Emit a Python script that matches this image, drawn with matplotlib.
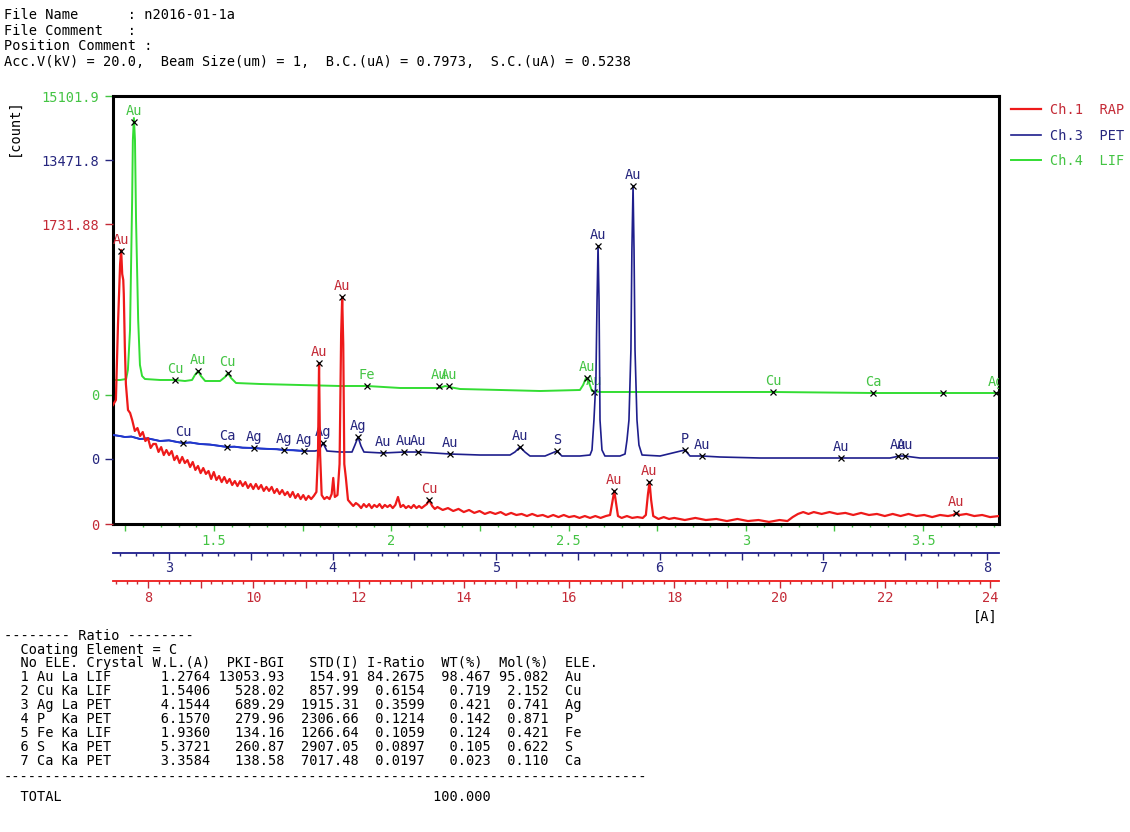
import numpy as np
import matplotlib
matplotlib.use("Agg")
import matplotlib.pyplot as plt
from matplotlib.ticker import MultipleLocator, FixedLocator

# ---------------- data (wavelength in Angstrom, intensity in counts) ----------------
# Ch.1 RAP
RAP_WL = [7.335, 7.39, 7.43, 7.47, 7.49, 7.51, 7.53, 7.54, 7.56, 7.58, 7.62, 7.66,
          7.70, 7.75, 7.80, 7.85, 7.90, 7.95, 8.00, 8.05, 8.10, 8.15, 8.20, 8.25, 8.30, 8.35,
          8.40, 8.45, 8.50, 8.55, 8.60, 8.65, 8.70, 8.75, 8.80, 8.85, 8.90, 8.95, 9.00, 9.05,
          9.10, 9.15, 9.20, 9.25, 9.30, 9.35, 9.40, 9.45, 9.50, 9.55, 9.60, 9.65, 9.70, 9.75,
          9.80, 9.85, 9.90, 9.95, 10.00, 10.05, 10.10, 10.15, 10.20, 10.25, 10.30, 10.35, 10.40,
          10.45, 10.50, 10.55, 10.60, 10.65, 10.70, 10.75, 10.80, 10.85, 10.90, 10.95, 11.00,
          11.05, 11.10, 11.15, 11.20, 11.23, 11.25, 11.27, 11.30, 11.35, 11.40, 11.45, 11.49,
          11.52, 11.55, 11.60, 11.64, 11.67, 11.69, 11.71, 11.73, 11.76, 11.80, 11.85, 11.90,
          11.95, 12.00, 12.05, 12.10, 12.15, 12.20, 12.25, 12.30, 12.35, 12.40, 12.45, 12.50,
          12.55, 12.60, 12.65, 12.70, 12.75, 12.80, 12.85, 12.90, 12.95, 13.00, 13.05, 13.10,
          13.15, 13.20, 13.25, 13.30, 13.34, 13.40, 13.45, 13.50, 13.60, 13.70, 13.80, 13.90,
          14.00, 14.10, 14.20, 14.30, 14.40, 14.50, 14.60, 14.70, 14.80, 14.90, 15.00, 15.10,
          15.20, 15.30, 15.40, 15.50, 15.60, 15.70, 15.80, 15.90, 16.00, 16.10, 16.20, 16.30,
          16.40, 16.50, 16.60, 16.70, 16.78, 16.83, 16.86, 16.89, 16.93, 17.00, 17.10, 17.20,
          17.30, 17.40, 17.46, 17.50, 17.53, 17.56, 17.60, 17.70, 17.80, 17.90, 18.00, 18.20,
          18.40, 18.60, 18.80, 19.00, 19.20, 19.40, 19.60, 19.80, 20.00, 20.15, 20.25, 20.35,
          20.45, 20.55, 20.65, 20.80, 20.95, 21.10, 21.25, 21.40, 21.55, 21.70, 21.85, 22.00,
          22.15, 22.30, 22.45, 22.60, 22.75, 22.90, 23.05, 23.20, 23.30, 23.36, 23.42, 23.55,
          23.70, 23.85, 24.00, 24.17]
RAP_CNT = [687, 716, 1155, 1501, 1582, 1443, 1409, 1328, 1022, 808, 658, 641,
           600, 537, 554, 508, 531, 479, 496, 439, 462, 462, 416, 444, 398, 427,
           398, 421, 369, 393, 352, 387, 352, 369, 329, 358, 312, 335, 294, 323,
           289, 306, 260, 300, 254, 277, 242, 271, 237, 260, 225, 248, 219, 248,
           219, 242, 208, 231, 202, 231, 202, 225, 191, 214, 191, 214, 179,
           202, 173, 196, 167, 185, 156, 185, 150, 173, 144, 167, 139,
           162, 144, 162, 185, 404, 929, 404, 167, 144, 156, 144, 173,
           266, 156, 167, 346, 1097, 1310, 1039, 346, 266, 139, 121, 104,
           121, 110, 92, 115, 98, 115, 92, 110, 98, 115, 92, 110,
           98, 110, 92, 110, 156, 98, 110, 92, 104, 92, 110, 92,
           104, 92, 104, 115, 139, 104, 87, 98, 81, 92, 75, 87,
           69, 81, 64, 75, 58, 69, 58, 69, 52, 64, 52, 58,
           46, 58, 46, 52, 40, 52, 40, 52, 40, 46, 35, 46,
           35, 46, 35, 46, 52, 139, 191, 127, 46, 35, 46, 35,
           40, 35, 52, 173, 242, 139, 46, 29, 40, 29, 35, 23,
           35, 23, 29, 17, 29, 17, 23, 12, 23, 17, 40, 58,
           69, 58, 69, 58, 69, 58, 64, 52, 64, 52, 58, 46,
           58, 46, 58, 46, 52, 40, 52, 46, 52, 64, 52, 58,
           46, 52, 40, 46]

# Ch.3 PET
PET_WL = [2.658, 2.700, 2.731, 2.770, 2.823, 2.870, 2.945, 3.000, 3.050, 3.086, 3.130, 3.190,
          3.250, 3.300, 3.355, 3.400, 3.450, 3.520, 3.560, 3.618, 3.660, 3.703, 3.760, 3.825,
          3.893, 3.917, 3.942, 3.966, 4.046, 4.119, 4.137, 4.156, 4.174, 4.192, 4.308, 4.437,
          4.522, 4.718, 4.901, 5.085, 5.115, 5.146, 5.176, 5.207, 5.299, 5.372, 5.402, 5.512,
          5.574, 5.586, 5.598, 5.610, 5.617, 5.623, 5.629, 5.635, 5.647, 5.665, 5.757, 5.788,
          5.800, 5.812, 5.824, 5.830, 5.837, 5.843, 5.849, 5.861, 5.873, 5.892, 6.002, 6.154,
          6.185, 6.258, 6.368, 6.613, 7.108, 7.407, 7.438, 7.456, 7.499, 7.542, 7.591, 8.074]
PET_CNT = [1081, 1036, 991, 1010, 901, 930, 811, 840, 766, 721, 745, 676,
           650, 600, 541, 555, 510, 496, 470, 451, 440, 406, 395, 360,
           360, 406, 721, 360, 315, 315, 631, 991, 586, 315, 270, 315,
           315, 225, 180, 180, 315, 541, 315, 135, 135, 360, 135, 135,
           180, 406, 1757, 3560, 7165, 9598, 7165, 1757, 406, 135, 135, 225,
           856, 1757, 4912, 9418, 12301, 9418, 4912, 1757, 631, 180, 135, 406,
           135, 135, 90, 45, 45, 45, 90, 135, 135, 90, 45, 45]

# Ch.4 LIF
LIF_WL = [1.215, 1.235, 1.252, 1.257, 1.263, 1.269, 1.271, 1.274, 1.277, 1.280, 1.286, 1.291,
          1.297, 1.305, 1.348, 1.390, 1.418, 1.438, 1.446, 1.455, 1.463, 1.475, 1.517, 1.531,
          1.539, 1.548, 1.562, 1.630, 1.742, 1.855, 1.931, 2.025, 2.135, 2.152, 2.163, 2.194,
          2.307, 2.420, 2.532, 2.541, 2.549, 2.558, 2.566, 2.589, 2.871, 3.077, 3.359, 3.556,
          3.714]
LIF_CNT = [758, 758, 808, 1263, 3283, 9849, 12880, 13991, 12880, 8839, 3788, 1515,
           960, 808, 758, 758, 707, 758, 1010, 1212, 960, 707, 707, 909,
           1111, 859, 606, 556, 505, 455, 455, 354, 354, 455, 404, 303,
           253, 202, 253, 505, 859, 606, 202, 152, 152, 152, 101, 101,
           101]

# identified peaks (marker position and element label)
RAP_PK_WL = [7.487, 11.251, 11.689, 13.343, 16.860, 17.525, 23.362]
RAP_PK_CNT = [1576, 929, 1310, 139, 191, 242, 64]
RAP_PK_LBL = ["Au", "Au", "Au", "Cu", "Au", "Au", "Au"]

PET_PK_WL = [3.086, 3.355, 3.520, 3.703, 3.825, 3.942, 4.156, 4.308, 4.437, 4.522, 4.718,
             5.146, 5.372, 5.623, 5.837, 6.154, 6.258, 7.108, 7.456, 7.499]
PET_PK_CNT = [721, 541, 496, 406, 360, 721, 991, 270, 315, 315, 225,
              541, 360, 9598, 12301, 406, 135, 45, 135, 135]
PET_PK_LBL = ["Cu", "Ca", "Ag", "Ag", "Ag", "Ag", "Ag", "Au", "Au", "Au", "Au",
              "Au", "S", "Au", "Au", "P", "Au", "Au", "Au", "Au"]

LIF_PK_WL = [1.274, 1.390, 1.455, 1.539, 1.931, 2.135, 2.163, 2.552, 2.572, 3.077, 3.359, 3.556, 3.706]
LIF_PK_CNT = [13789, 758, 1212, 1111, 455, 455, 455, 859, 152, 152, 101, 101, 101]
LIF_PK_LBL = ["Au", "Cu", "Au", "Cu", "Fe", "Au", "Au", "Au", "Au", "Cu", "Ca", "", "Ag"]

Y_TOP = {"RAP": 1731.88, "PET": 13471.8, "LIF": 15101.9}
CHANNELS = ["Ch.1  RAP", "Ch.3  PET", "Ch.4  LIF"]

HEADER = ["File Name      : n2016-01-1a",
          "File Comment   :",
          "Position Comment :",
          "Acc.V(kV) = 20.0,  Beam Size(um) = 1,  B.C.(uA) = 0.7973,  S.C.(uA) = 0.5238"]

T_NO = ["1", "2", "3", "4", "5", "6", "7"]
T_ELE = ["Au", "Cu", "Ag", "P", "Fe", "S", "Ca"]
T_LINE = ["La", "Ka", "La", "Ka", "Ka", "Ka", "Ka"]
T_CRYS = ["LIF", "LIF", "PET", "PET", "LIF", "PET", "PET"]
T_WL = ["1.2764", "1.5406", "4.1544", "6.1570", "1.9360", "5.3721", "3.3584"]
T_PKI = ["13053.93", "528.02", "689.29", "279.96", "134.16", "260.87", "138.58"]
T_STD = ["154.91", "857.99", "1915.31", "2306.66", "1266.64", "2907.05", "7017.48"]
T_IR = ["84.2675", "0.6154", "0.3599", "0.1214", "0.1059", "0.0897", "0.0197"]
T_WT = ["98.467", "0.719", "0.421", "0.142", "0.124", "0.105", "0.023"]
T_MOL = ["95.082", "2.152", "0.741", "0.871", "0.421", "0.622", "0.110"]
TOTAL_WT = "100.000"

# ---------------- styling / layout ----------------
RED_LINE, RED_TXT = "#ee1a1a", "#c42a36"
BLUE_LINE, BLUE_LINE2, BLUE_TXT = "#1e1e8c", "#2038d0", "#26267e"
GRN_LINE, GRN_TXT = "#33dd33", "#44c444"
MONO = "DejaVu Sans Mono"
FS = 9.8

plt.rcParams["font.family"] = MONO
plt.rcParams["font.size"] = FS

W, H = 1130, 832
fig = plt.figure(figsize=(W / 100, H / 100), dpi=100)
fig.patch.set_facecolor("white")
L, R, T, B = 113, 999, 96, 524
rect = [L / W, 1 - B / H, (R - L) / W, (B - T) / H]
PX = 72 / 100  # points per pixel


def ylim_for(zero_px, top_px, top_val):
    per = top_val / (zero_px - top_px)
    return (-(B - zero_px) * per, top_val + (top_px - T) * per)


axG = fig.add_axes(rect)
axB = fig.add_axes(rect)
axR = fig.add_axes(rect)
for a in (axB, axR):
    a.patch.set_visible(False)
    for s in ("top", "right", "left"):
        a.spines[s].set_visible(False)

axG.set_xlim(1.215, 3.714)
axB.set_xlim(2.658, 8.074)
axR.set_xlim(7.335, 24.17)
axG.set_ylim(*ylim_for(395, 96, Y_TOP["LIF"]))
axB.set_ylim(*ylim_for(459, 160, Y_TOP["PET"]))
axR.set_ylim(*ylim_for(524, 224, Y_TOP["RAP"]))

lG, = axG.plot(LIF_WL, LIF_CNT, color=GRN_LINE, lw=1.4)
lB, = axB.plot(PET_WL, PET_CNT, color=BLUE_LINE, lw=1.2)
axB.plot(PET_WL[:24], PET_CNT[:24], color=BLUE_LINE2, lw=1.4)
lR, = axR.plot(RAP_WL, RAP_CNT, color=RED_LINE, lw=1.6)


def peaks(ax, wl, cnt, lbl, col):
    ax.plot(wl, cnt, "x", color="black", ms=5, mew=0.9, zorder=5)
    for x, y, s in zip(wl, cnt, lbl):
        if s:
            ax.annotate(s, (x, y), xytext=(0, 3), textcoords="offset points",
                        ha="center", va="bottom", color=col, fontsize=FS,
                        annotation_clip=False, clip_on=True)


peaks(axG, LIF_PK_WL, LIF_PK_CNT, LIF_PK_LBL, GRN_TXT)
peaks(axB, PET_PK_WL, PET_PK_CNT, PET_PK_LBL, BLUE_TXT)
peaks(axR, RAP_PK_WL, RAP_PK_CNT, RAP_PK_LBL, RED_TXT)

# frame
for s in axG.spines.values():
    s.set_color("black")
    s.set_linewidth(2.2)

# y ticks (left, coloured per channel)
for a, key, col in ((axG, "LIF", GRN_TXT), (axB, "PET", BLUE_TXT), (axR, "RAP", RED_TXT)):
    a.yaxis.set_major_locator(FixedLocator([0, Y_TOP[key]]))
    a.set_yticklabels(["0", f"{Y_TOP[key]:g}"])
    a.tick_params(axis="y", which="both", left=True, right=False, direction="out",
                  length=6, width=1, colors=col, pad=4, labelsize=FS)

# x axes
axG.xaxis.set_major_locator(MultipleLocator(0.25))
axG.xaxis.set_minor_locator(MultipleLocator(0.05))
axG.xaxis.set_major_formatter(plt.FuncFormatter(
    lambda v, p: (f"{v:g}" if abs(v * 2 - round(v * 2)) < 1e-6 else "")))
axG.tick_params(axis="x", which="major", direction="out", length=5, width=1,
                colors=GRN_TXT, pad=2, labelsize=FS)
axG.tick_params(axis="x", which="minor", direction="out", length=2, width=1, colors=GRN_TXT)

axB.spines["bottom"].set_position(("outward", 29 * PX))
axB.spines["bottom"].set_color(BLUE_LINE)
axB.spines["bottom"].set_linewidth(1.3)
axB.xaxis.set_major_locator(MultipleLocator(0.5))
axB.xaxis.set_minor_locator(MultipleLocator(0.1))
axB.xaxis.set_major_formatter(plt.FuncFormatter(
    lambda v, p: (f"{v:g}" if abs(v - round(v)) < 1e-6 else "")))
axB.tick_params(axis="x", which="major", direction="out", length=5, width=1,
                colors=BLUE_TXT, pad=1, labelsize=FS)
axB.tick_params(axis="x", which="minor", direction="out", length=2, width=1, colors=BLUE_TXT)

axR.spines["bottom"].set_position(("outward", 57 * PX))
axR.spines["bottom"].set_color(RED_LINE)
axR.spines["bottom"].set_linewidth(1.3)
axR.xaxis.set_major_locator(MultipleLocator(1))
axR.xaxis.set_minor_locator(MultipleLocator(0.2))
axR.xaxis.set_major_formatter(plt.FuncFormatter(
    lambda v, p: (f"{v:g}" if abs(v / 2 - round(v / 2)) < 1e-6 else "")))
axR.tick_params(axis="x", which="major", direction="out", length=5, width=1,
                colors=RED_TXT, pad=2, labelsize=FS)
axR.tick_params(axis="x", which="minor", direction="out", length=2, width=1, colors=RED_TXT)

# axis unit labels
fig.text(14 / W, 1 - 127 / H, "[count]", rotation=90, ha="center", va="center", color="black")
fig.text(985 / W, 1 - 617 / H, "[A]", ha="center", va="center", color="black")

# legend
leg = axR.legend([lR, lB, lG], CHANNELS, loc="upper left",
                 bbox_to_anchor=(1011 / W, 1 - 103 / H), bbox_transform=fig.transFigure,
                 frameon=False, borderpad=0, borderaxespad=0, handlelength=2.2,
                 handletextpad=0.7, labelspacing=0.85, fontsize=FS)
for t, c in zip(leg.get_texts(), (RED_TXT, BLUE_TXT, GRN_TXT)):
    t.set_color(c)

# header text
for i, s in enumerate(HEADER):
    fig.text(4 / W, 1 - (15 + i * 15.7) / H, s, ha="left", va="center", color="black")


# ratio table
def at(pairs, width=80):
    buf = [" "] * width
    for col, s in pairs:
        buf[col:col + len(s)] = list(s)
    return "".join(buf).rstrip()


lines = ["-------- Ratio --------",
         "  Coating Element = C",
         at([(2, "No"), (5, "ELE."), (10, "Crystal"), (18, "W.L.(A)"), (27, "PKI-BGI"),
             (37, "STD(I)"), (44, "I-Ratio"), (53, "WT(%)"), (60, "Mol(%)"), (68, "ELE.")])]
for i in range(len(T_NO)):
    lines.append(f"{T_NO[i]:>3} {T_ELE[i]:<2} {T_LINE[i]:<2} {T_CRYS[i]:<4}{T_WL[i]:>11}"
                 f"{T_PKI[i]:>9}{T_STD[i]:>9}{T_IR[i]:>8}{T_WT[i]:>8}{T_MOL[i]:>7}  {T_ELE[i]}")
ys = [636, 650, 663] + [677 + 14 * i for i in range(len(T_NO))]
for y, s in zip(ys, lines):
    fig.text(4 / W, 1 - y / H, s, ha="left", va="center", color="black")
fig.text(4 / W, 1 - 778 / H, "-" * 78, ha="left", va="center", color="black")
fig.text(4 / W, 1 - 797 / H, at([(2, "TOTAL"), (52, TOTAL_WT)]), ha="left", va="center",
         color="black")

fig.savefig("out.png", dpi=100, facecolor="white")
